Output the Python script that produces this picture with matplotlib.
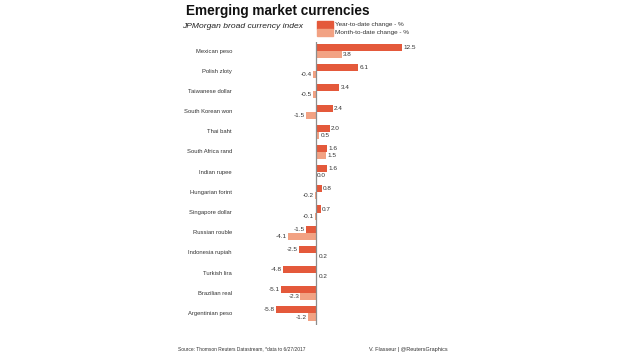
import matplotlib
matplotlib.use("Agg")
import matplotlib.pyplot as plt
from matplotlib.patches import Rectangle

plt.rcParams['font.family'] = ['Liberation Sans', 'DejaVu Sans']

currencies = ["Mexican peso", "Polish zloty", "Taiwanese dollar", "South Korean won",
              "Thai baht", "South Africa rand", "Indian rupee", "Hungarian forint",
              "Singapore dollar", "Russian rouble", "Indonesia rupiah", "Turkish lira",
              "Brazilian real", "Argentinian peso"]
ytd = [12.5, 6.1, 3.4, 2.4, 2.0, 1.6, 1.6, 0.8, 0.7, -1.5, -2.5, -4.8, -5.1, -5.8]
mtd = [3.8, -0.4, -0.5, -1.5, 0.5, 1.5, 0.0, -0.2, -0.1, -4.1, 0.2, 0.2, -2.3, -1.2]

c_ytd = "#E4593B"
c_mtd = "#F2A283"

W, H = 620, 355
fig = plt.figure(figsize=(W / 100, H / 100), dpi=100)

# axes pixel geometry
ax_left, ax_right = 270, 420
ax_top, ax_bot = 42, 325
zero_px, scale = 316, 6.9
ax = fig.add_axes([ax_left / W, 1 - ax_bot / H, (ax_right - ax_left) / W, (ax_bot - ax_top) / H])
ax.set_xlim((ax_left - zero_px) / scale, (ax_right - zero_px) / scale)
sp = 20.19
ax.set_ylim(13 + (ax_bot - 313.5) / sp, -(51 - ax_top) / sp)

bh = 0.35
idx = list(range(len(currencies)))
ax.barh([i - bh for i in idx], ytd, height=bh, align='edge', color=c_ytd, zorder=2)
ax.barh(idx, mtd, height=bh, align='edge', color=c_mtd, zorder=2)
ax.axvline(0, color="#8c8c8c", lw=0.9, zorder=3)

for i, (a, b) in enumerate(zip(ytd, mtd)):
    for v, yy in ((a, i - bh / 2), (b, i + bh / 2)):
        if v >= 0:
            ax.text(v + 0.15, yy, f"{v:.1f}", ha='left', va='center', fontsize=4.6, color="#333333")
        else:
            ax.text(v - 0.15, yy, f"{v:.1f}", ha='right', va='center', fontsize=4.6, color="#333333")
    ax.text((232 - zero_px) / scale, i, currencies[i], ha='right', va='center',
            fontsize=4.2, color="#333333", clip_on=False)

ax.axis('off')

fig.text(186 / W, 1 - 11.5 / H, "Emerging market currencies", fontsize=9.8, fontweight='bold',
         ha='left', va='center', color="#111111")
fig.text(182 / W, 1 - 27 / H, "JPMorgan broad currency index", fontsize=6.1, style='italic',
         ha='left', va='center', color="#222222")

# legend
for k, (col, lab) in enumerate(((c_ytd, "Year-to-date change - %"), (c_mtd, "Month-to-date change - %"))):
    y0 = 21 + k * 7.8
    fig.patches.append(Rectangle((317 / W, 1 - (y0 + 7.5) / H), 16 / W, 7.5 / H,
                                 transform=fig.transFigure, color=col))
    fig.text(335 / W, 1 - (y0 + 3.8) / H, lab, fontsize=4.6, ha='left', va='center', color="#333333")

fig.text(178 / W, 1 - 349 / H, "Source: Thomson Reuters Datastream, *data to 6/27/2017",
         fontsize=3.5, ha='left', va='center', color="#333333")
fig.text(369 / W, 1 - 349 / H, "V. Flasseur | @ReutersGraphics",
         fontsize=4.0, ha='left', va='center', color="#333333")

fig.savefig("out.png", dpi=100, facecolor="white")
